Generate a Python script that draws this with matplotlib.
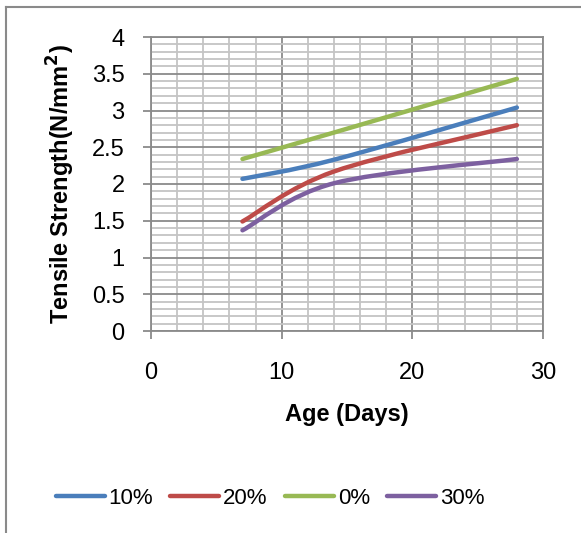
import matplotlib.pyplot as plt
from matplotlib.path import Path
from matplotlib.patches import PathPatch
from matplotlib.lines import Line2D
from matplotlib.ticker import MultipleLocator

# data
age_days = [7, 14, 28]
series_names = ["10%", "20%", "0%", "30%"]
strength_10 = [2.07, 2.33, 3.04]
strength_20 = [1.49, 2.17, 2.80]
strength_0 = [2.34, 2.70, 3.43]
strength_30 = [1.37, 2.01, 2.34]
colors = ["#4A7EBB", "#BE4B48", "#98B954", "#7D60A0"]

plt.rcParams["font.family"] = ["Liberation Sans", "DejaVu Sans"]


def smooth_path(xs, ys):
    # excel-like smoothed line: cubic bezier through the points
    pts = list(zip(xs, ys))
    verts = [pts[0]]
    codes = [Path.MOVETO]
    n = len(pts)
    for i in range(n - 1):
        p0 = pts[max(i - 1, 0)]
        p1 = pts[i]
        p2 = pts[i + 1]
        p3 = pts[min(i + 2, n - 1)]
        c1 = (p1[0] + (p2[0] - p0[0]) / 6, p1[1] + (p2[1] - p0[1]) / 6)
        c2 = (p2[0] - (p3[0] - p1[0]) / 6, p2[1] - (p3[1] - p1[1]) / 6)
        verts += [c1, c2, p2]
        codes += [Path.CURVE4] * 3
    return Path(verts, codes)


fig = plt.figure(figsize=(5.81, 5.33), dpi=100)
ax = fig.add_axes([151 / 581, 1 - 331 / 533, 392 / 581, 294 / 533])

all_series = [strength_10, strength_20, strength_0, strength_30]
for vals, c in zip(all_series, colors):
    patch = PathPatch(smooth_path(age_days, vals), facecolor="none", edgecolor=c,
                      lw=3.2, capstyle="round", zorder=3)
    ax.add_patch(patch)

ax.set_xlim(0, 30)
ax.set_ylim(0, 4)
ax.xaxis.set_major_locator(MultipleLocator(10))
ax.xaxis.set_minor_locator(MultipleLocator(2))
ax.yaxis.set_minor_locator(MultipleLocator(0.1))
ax.set_yticks([0, 0.5, 1, 1.5, 2, 2.5, 3, 3.5, 4])
ax.set_yticklabels(["0", "0.5", "1", "1.5", "2", "2.5", "3", "3.5", "4"])

ax.grid(which="minor", color="#C4C4C4", lw=1.3)
ax.grid(which="major", color="#8A8A8A", lw=1.3)
ax.set_axisbelow(True)
for s in ax.spines.values():
    s.set_color("#8A8A8A")
    s.set_linewidth(1.3)

ax.tick_params(which="major", length=6, width=1.3, color="#8A8A8A", labelsize=17)
ax.tick_params(axis="y", pad=13)
ax.tick_params(axis="x", pad=16)
ax.tick_params(which="minor", length=0)

ax.set_xlabel("Age (Days)", fontsize=17, fontweight="bold", labelpad=14)
ax.set_ylabel("Tensile Strength(N/mm$^\\mathbf{2}$)", fontsize=17,
              fontweight="bold", labelpad=11)

handles = [Line2D([], [], color=c, lw=3.2, solid_capstyle="round") for c in colors]
fig.legend(handles, series_names, loc="center", ncol=4, frameon=False,
           fontsize=16, handlelength=2.2, handletextpad=0.18, columnspacing=0.77,
           bbox_to_anchor=(270 / 581, 1 - 498 / 533))

# chart area border (left and top edges visible)
fig.add_artist(Line2D([6 / 581, 6 / 581], [0, 1 - 7 / 533], color="#8A8A8A",
                      lw=1.5, transform=fig.transFigure))
fig.add_artist(Line2D([6 / 581, 1], [1 - 7 / 533, 1 - 7 / 533], color="#8A8A8A",
                      lw=1.5, transform=fig.transFigure))

fig.savefig("out.png", dpi=100)
